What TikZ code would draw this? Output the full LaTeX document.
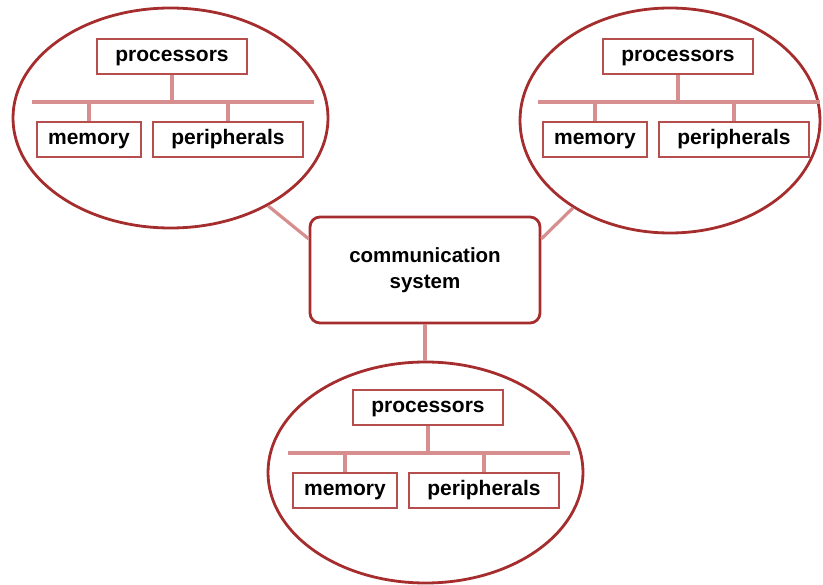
\documentclass[tikz,border=0pt]{standalone}
\usepackage{fontspec}
\setmainfont{Liberation Sans}
\usetikzlibrary{shapes.geometric}

\definecolor{rimred}{RGB}{165,45,45}
\definecolor{boxred}{RGB}{182,78,78}
\definecolor{linkpink}{RGB}{214,142,142}

\tikzset{
  unit/.style={ellipse, draw=rimred, line width=2.8pt, inner sep=0pt},
  part/.style={draw=boxred, line width=1.8pt, minimum height=35pt, inner sep=0pt,
    text height=15pt, text depth=4pt, font=\bfseries\fontsize{21}{26}\selectfont},
  link/.style={draw=linkpink, line width=3.2pt},
  hub/.style={draw=rimred, line width=2.8pt, rounded corners=10pt, minimum width=230pt,
    minimum height=106pt, align=center, font=\bfseries\fontsize{20.5}{26}\selectfont}
}

\begin{document}
\begin{tikzpicture}[x=1pt, y=-1pt]
\useasboundingbox (0,0) rectangle (823,585);

% center of the graph
\node (comm) [hub] at (425,270) {communication\\system};

%The three computers
\foreach \n/\ex/\ey/\ew/\eh/\px/\py in {L/170.5/118/315/220/172/56.5,
                                         R/670/120.5/300/225/678/56.5,
                                         B/425.5/472.5/315/221/428/407.5}{
  \node (\n-ell) [unit, minimum width=\ew pt, minimum height=\eh pt] at (\ex,\ey) {};
  \begin{scope}[shift={(\px,\py)}]
    \node (\n-proc) [part, minimum width=150pt] at (0,0) {processors};
    \node (\n-mem) [part, minimum width=104pt] at (-83,83) {memory};
    \node (\n-peri) [part, minimum width=150pt] at (56,83) {peripherals};
    \coordinate (\n-busL) at (-140,45.5);
    \coordinate (\n-busR) at (142,45.5);
  \end{scope}
  %bus with its drops
  \draw[link] (\n-busL) -- (\n-busR);
  \draw[link] (\n-proc.south) -- (\n-proc.south |- \n-busL);
  \draw[link] (\n-mem.north) -- (\n-mem.north |- \n-busL);
  \draw[link] (\n-peri.north) -- (\n-peri.north |- \n-busL);
}

%Links to the communication system
\draw[link] (comm.165) -- (L-ell.-42.6);
\draw[link] (comm.15) -- (R-ell.-138.4);
\draw[link] (comm.south) -- (comm.south |- B-ell.north);

\end{tikzpicture}
\end{document}
